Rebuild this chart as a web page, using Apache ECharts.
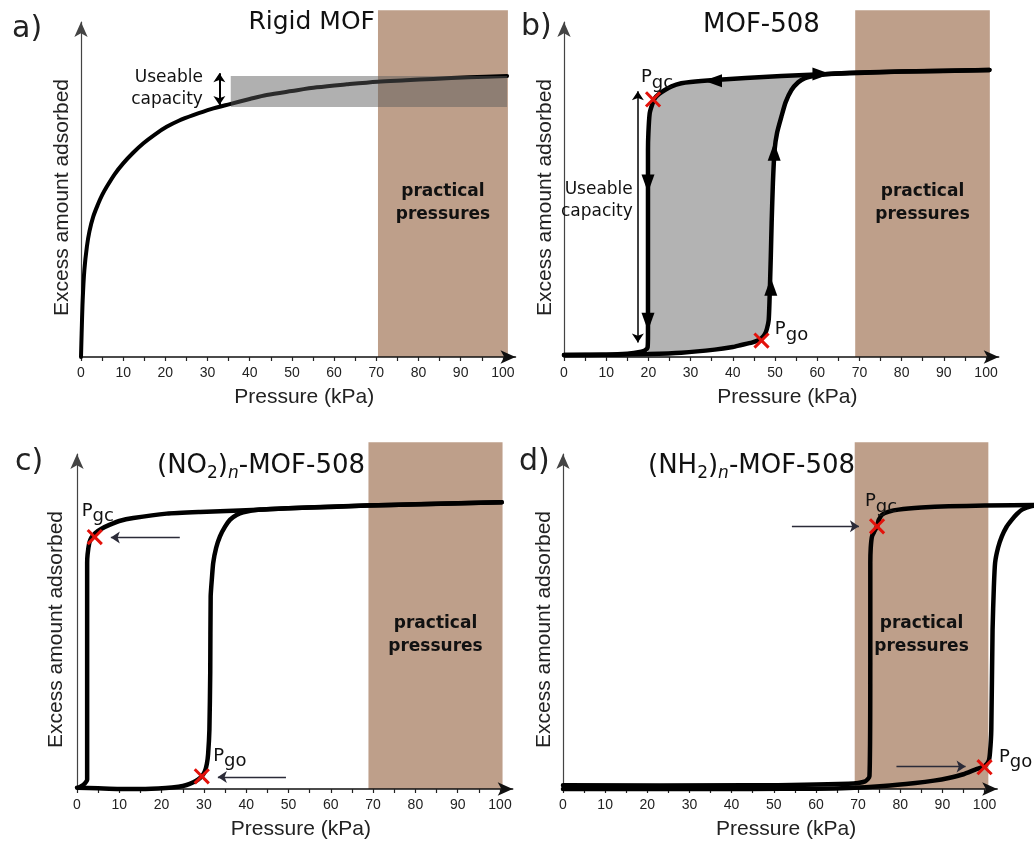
<!DOCTYPE html>
<html>
<head>
<meta charset="utf-8">
<title>MOF isotherms</title>
<script src="https://cdn.jsdelivr.net/npm/echarts@6/dist/echarts.min.js"></script>
<style>
  html, body { margin: 0; padding: 0; background: #fff; }
  #chart { width: 1034px; height: 843px; }
</style>
</head>
<body>
<div id="chart"></div>
<script>
// ================= axis ticks =================
const pressureTicks = [0, 5, 10, 15, 20, 25, 30, 35, 40, 45, 50, 55, 60, 65, 70, 75, 80, 85, 90, 95, 100]
const pressureLabels = [0, 10, 20, 30, 40, 50, 60, 70, 80, 90, 100]

// practical pressure band of each panel (kPa)
const practicalFrom = [70.4, 69.0, 68.9, 69.2]
const practicalTo = [101.2, 100.9, 100.6, 100.9]
const practicalTop = 103.5

// ================= a) rigid MOF =================
const aPressure = [0, 0.15, 0.4, 0.8, 1.4, 2.0, 2.9, 4.0, 5.0, 6.1, 8, 10, 12.3, 14.8, 17.5, 20.3, 23.3, 26.6, 30.8, 35.3, 40, 44, 50, 55.9, 63, 70.3, 77, 83.5, 92, 101]
const aAmount = [0, 7, 17, 26, 33, 37.5, 41.9, 45.5, 48.3, 50.8, 54.6, 57.8, 60.9, 63.8, 66.4, 68.7, 70.6, 72.2, 74, 75.5, 77, 78.2, 79.4, 80.5, 81.4, 82.2, 82.6, 83, 83.5, 83.9]
// useable band: pressure from/to, amount low/high
const aUseableP = [35.5, 101]
const aUseableAmt = [74.6, 83.9]

// ================= b) MOF-508 =================
const bAdsP = [0, 6, 12, 20, 27.8, 35.7, 40, 42, 44.5, 46, 46.8, 47.6, 48.1, 48.5, 48.7, 49.0, 49.2, 49.5, 49.9, 50.5, 51.5, 52.5, 53.9, 55.5, 57, 60, 62.6, 70, 80, 90, 100.8]
const bAdsAmt = [0.6, 0.6, 0.7, 0.9, 1.3, 2.2, 3.0, 3.6, 4.3, 5.0, 5.6, 6.8, 8.5, 11, 17, 30, 40, 52, 61.8, 67, 71.7, 76, 79.7, 82, 83.2, 84.1, 84.5, 84.9, 85.2, 85.4, 85.7]
const bDesP = [100.8, 80, 62.6, 51.5, 43, 35.7, 30, 27.8, 25.5, 23.9, 22.5, 21.5, 20.8, 20.3, 20.0, 19.9, 19.9, 19.9, 19.8, 19.2, 18.3, 15, 10, 0]
const bDesAmt = [85.7, 85.2, 84.5, 83.9, 83.3, 82.7, 82.1, 81.7, 80.8, 79.7, 78.5, 77.2, 75.0, 72.7, 67, 61.8, 37, 7.1, 2.8, 2.0, 1.6, 1.0, 0.7, 0.6]
// direction arrows on the loop
const bFlowP = [35.3, 61, 19.9, 19.9, 49.8, 49.0]
const bFlowAmt = [82.5, 84.5, 51.8, 10.5, 61.3, 21]
const bFlowRot = [90, -90, 180, 180, 0, 0]
const bGateP = [21.1, 46.8]
const bGateAmt = [76.9, 4.9]

// ================= c) (NO2)n-MOF-508 =================
const cAdsP = [0, 5, 10, 15, 21, 24, 25.9, 27.5, 28.6, 29.5, 30.2, 30.7, 31.0, 31.3, 31.5, 31.6, 31.9, 32.2, 32.9, 33.8, 35, 36.2, 37.7, 39.3, 43.3, 50, 60, 68.5, 80, 90, 100.4]
const cAdsAmt = [0.4, 0.2, 0, 0, 0.3, 0.7, 1.2, 2.0, 2.8, 3.8, 5.2, 7.5, 10.5, 17.7, 35, 57.5, 63, 67.5, 72, 75.4, 78.3, 80.4, 81.8, 82.6, 83.4, 83.8, 84.2, 84.6, 85, 85.3, 85.6]
const cDesP = [100.4, 68.5, 50, 38.5, 29.1, 21.2, 13.3, 10, 7.8, 5.8, 4.3, 3.4, 2.9, 2.5, 2.4, 2.4, 2.4, 1.5, 0.4]
const cDesAmt = [85.6, 84.6, 83.8, 83.1, 82.7, 82.2, 80.9, 80.0, 78.9, 77.7, 76.4, 75.0, 73.4, 70, 67.5, 17.7, 2.8, 1.2, 0.4]
const cGateP = [4.2, 29.5]
const cGateAmt = [75.2, 3.8]

// ================= d) (NH2)n-MOF-508 =================
const dAdsP = [0, 20, 44, 60, 67.7, 76, 83.6, 88, 91.5, 95, 97.8, 100, 101, 101.3, 101.6, 101.9, 102.2, 102.5, 103.2, 104.1, 105.2, 106.5, 107.7, 108.9, 111, 114]
const dAdsAmt = [0, 0, 0, 0.1, 0.3, 0.9, 1.8, 2.5, 3.3, 4.4, 5.8, 6.8, 8.4, 11, 17.7, 47.5, 60, 67.5, 72, 75.4, 78.2, 80.4, 82.1, 83.4, 84.4, 84.8]
const dDesP = [114, 100, 91.5, 85, 79.6, 77.3, 75.7, 74.9, 74.5, 73.9, 73.3, 73.0, 72.9, 72.9, 72.7, 71.7, 67.7, 44, 0]
const dDesAmt = [84.8, 84.6, 84.4, 84.0, 83.4, 82.8, 81.9, 80.3, 78.4, 77.0, 75.4, 72, 67.5, 37.6, 3.8, 2.3, 1.6, 1.1, 1.1]
const dGateP = [74.5, 100]
const dGateAmt = [78.4, 6.5]

const gateSub = ['gc', 'go']

// ================= helpers =================
const SANS = 'Liberation Sans, Arial, sans-serif'
const VERD = 'DejaVu Sans, Verdana, sans-serif'
const X_PATH = 'path://M4.25,0H5.75V4.25H10V5.75H5.75V10H4.25V5.75H0V4.25H4.25Z'

const zip = (xs, ys) => xs.map((x, k) => [x, ys[k]])

const grids = [
  { left: 81, top: 22, width: 434.5, height: 335 },
  { left: 564, top: 22, width: 434.7, height: 335 },
  { left: 77, top: 454, width: 435.7, height: 335 },
  { left: 563, top: 454, width: 434.2, height: 335 },
]

function xAxisFor(i) {
  return {
    gridIndex: i, type: 'value', min: 0, max: 103, z: 2,
    name: 'Pressure (kPa)', nameLocation: 'middle', nameGap: 30,
    nameTextStyle: { fontFamily: SANS, fontSize: 21, color: '#222', padding: [0, 0, 0, 12] },
    axisLine: { show: true, onZero: false, symbol: ['none', 'arrow'], symbolSize: [10, 15], lineStyle: { color: '#111', width: 1.5 } },
    axisTick: { show: true, inside: false, length: 4, customValues: pressureTicks, lineStyle: { color: '#222', width: 1.2 } },
    axisLabel: { customValues: pressureLabels, margin: 9, fontFamily: SANS, fontSize: 14, color: '#222' },
    splitLine: { show: false },
  }
}

function yAxisFor(i) {
  return {
    gridIndex: i, type: 'value', min: 0, max: 100, z: 2,
    name: 'Excess amount adsorbed', nameLocation: 'middle', nameGap: i === 2 ? 10 : 8,
    nameTextStyle: { fontFamily: SANS, fontSize: 21, color: '#222', padding: [0, 16, 0, 0] },
    axisLine: { show: true, symbol: ['none', 'arrow'], symbolSize: [10, 15], lineStyle: { color: '#444', width: 1.2 } },
    axisTick: { show: false },
    axisLabel: { show: false },
    splitLine: { show: false },
  }
}

function curve(i, xs, ys, extra) {
  return Object.assign({
    type: 'line', xAxisIndex: i, yAxisIndex: i, data: zip(xs, ys),
    showSymbol: false, smooth: 0.2, silent: true, clip: false, z: 3,
    lineStyle: { color: '#000', width: 4.5, cap: 'round', join: 'round' },
  }, extra || {})
}

// a curve that may run past the end of the axis (not clipped)
function freeCurve(i, xs, ys) {
  const pts = zip(xs, ys)
  return {
    type: 'custom', xAxisIndex: i, yAxisIndex: i, z: 3, silent: true,
    data: [pts[0]],
    renderItem: (params, api) => ({
      type: 'polyline',
      shape: { points: pts.map((pt) => api.coord(pt)), smooth: 0.2 },
      style: { stroke: '#000', lineWidth: 4.5, fill: null, lineCap: 'round', lineJoin: 'round' },
    }),
  }
}

function practicalBand(i) {
  return {
    type: 'custom', xAxisIndex: i, yAxisIndex: i, z: 1, silent: true,
    data: [[practicalFrom[i], practicalTo[i], practicalTop]],
    renderItem: (params, api) => {
      const p0 = api.coord([api.value(0), 0])
      const p1 = api.coord([api.value(1), api.value(2)])
      const mid = api.coord([0, 46])
      return {
        type: 'group',
        children: [
          { type: 'rect', shape: { x: p0[0], y: p1[1], width: p1[0] - p0[0], height: p0[1] - p1[1] }, style: { fill: '#be9f8a' } },
          {
            type: 'text',
            style: {
              text: 'practical\npressures', x: (p0[0] + p1[0]) / 2, y: mid[1],
              align: 'center', verticalAlign: 'middle', fontFamily: VERD, fontWeight: 'bold',
              fontSize: 17, lineHeight: 23, fill: '#111',
            },
          },
        ],
      }
    },
  }
}

const gateRich = {
  p: { fontFamily: VERD, fontSize: 18, color: '#111', textBorderWidth: 0 },
  s: { fontFamily: VERD, fontSize: 18, color: '#111', textBorderWidth: 0, padding: [11, 0, 0, 0] },
}

function gates(i, ps, amts, offsets, extra) {
  return Object.assign({
    type: 'scatter', xAxisIndex: i, yAxisIndex: i, z: 6, silent: true,
    symbol: X_PATH, symbolSize: 20, symbolRotate: 45,
    itemStyle: { color: '#e3120b', opacity: 1 },
    data: ps.map((p, k) => ({
      value: [p, amts[k]],
      label: {
        show: true, position: 'inside', offset: offsets[k], color: '#111',
        textBorderWidth: 0, textShadowBlur: 0,
        formatter: '{p|P}{s|' + gateSub[k] + '}', rich: gateRich,
      },
    })),
  }, extra || {})
}

function note(i, p, amt, text) {
  return {
    type: 'scatter', xAxisIndex: i, yAxisIndex: i, z: 6, silent: true,
    symbolSize: 0, data: [[p, amt]],
    itemStyle: { opacity: 1 },
    label: {
      show: true, position: 'inside', align: 'right', verticalAlign: 'middle',
      textBorderWidth: 0, textShadowBlur: 0,
      formatter: text, fontFamily: VERD, fontSize: 17, lineHeight: 22, color: '#111',
    },
  }
}

function arrowLines(symbol, width, color, segs) {
  return {
    silent: true, symbol: symbol, symbolSize: 9, animation: false,
    label: { show: false },
    lineStyle: { color: color, width: width, type: 'solid' },
    emphasis: { disabled: true },
    data: segs.map((s) => [{ coord: s[0] }, { coord: s[1] }]),
  }
}

// ================= series =================
const bLoop = zip(bDesP, bDesAmt).filter(([p]) => p <= 62.6 && p >= 19.8)
  .concat(zip(bAdsP, bAdsAmt).filter(([p]) => p >= 20 && p <= 62.6))

const series = [
  practicalBand(0), practicalBand(1), practicalBand(2), practicalBand(3),

  // a)
  curve(0, aPressure, aAmount, {
    smooth: 0.3,
    lineStyle: { color: '#000', width: 4, cap: 'round', join: 'round' },
    markLine: arrowLines(['arrow', 'arrow'], 2, '#000', [[[32.8, 75.2], [32.8, 84.7]]]),
  }),
  {
    type: 'custom', xAxisIndex: 0, yAxisIndex: 0, z: 4, silent: true,
    data: [[aUseableP[0], aUseableP[1], aUseableAmt[0], aUseableAmt[1]]],
    renderItem: (params, api) => {
      const p0 = api.coord([api.value(0), api.value(2)])
      const p1 = api.coord([api.value(1), api.value(3)])
      return { type: 'rect', shape: { x: p0[0], y: p1[1], width: p1[0] - p0[0], height: p0[1] - p1[1] }, style: { fill: 'rgba(90,90,90,0.48)' } }
    },
  },
  note(0, 28.9, 80, 'Useable\ncapacity'),

  // b)
  {
    type: 'custom', xAxisIndex: 1, yAxisIndex: 1, z: 2, silent: true,
    data: [[bLoop[0][0], bLoop[0][1]]],
    renderItem: (params, api) => ({
      type: 'polygon',
      shape: { points: bLoop.map((pt) => api.coord(pt)) },
      style: { fill: '#b3b3b3' },
    }),
  },
  curve(1, bAdsP, bAdsAmt, {
    markLine: arrowLines(['arrow', 'arrow'], 1.5, '#000', [[[17.5, 4.3], [17.5, 79.3]]]),
  }),
  curve(1, bDesP, bDesAmt),
  {
    type: 'scatter', xAxisIndex: 1, yAxisIndex: 1, z: 5, silent: true,
    symbol: 'triangle', symbolSize: [13, 18], itemStyle: { color: '#000', opacity: 1 },
    data: bFlowP.map((p, k) => ({ value: [p, bFlowAmt[k]], symbolRotate: bFlowRot[k] })),
  },
  gates(1, bGateP, bGateAmt, [[4, -22], [30, -11]]),
  note(1, 16.3, 46.6, 'Useable\ncapacity'),

  // c)
  curve(2, cAdsP, cAdsAmt, {
    markLine: arrowLines(['none', 'arrow'], 1.3, '#2b2b38', [[[24.3, 75.1], [8.0, 75.1]], [[49.4, 3.6], [33.3, 3.6]]]),
  }),
  curve(2, cDesP, cDesAmt),
  gates(2, cGateP, cGateAmt, [[3, -26], [28, -20]]),

  // d) runs past the axis end, so drawn without clipping
  freeCurve(3, dAdsP, dAdsAmt),
  freeCurve(3, dDesP, dDesAmt),
  gates(3, dGateP, dGateAmt, [[4, -25], [31, -10]], {
    markLine: arrowLines(['none', 'arrow'], 1.3, '#2b2b38', [[[54.3, 78.4], [70.2, 78.4]], [[79.1, 6.7], [95.5, 6.7]]]),
  }),
]

// ================= titles =================
const letterStyle = { fontFamily: VERD, fontSize: 30, fontWeight: 'normal', color: '#222' }
const headStyle = {
  fontFamily: VERD, fontSize: 26, fontWeight: 'normal', color: '#111',
  rich: {
    s: { fontFamily: VERD, fontSize: 17, color: '#111', padding: [14, 0, 0, 0] },
    i: { fontFamily: VERD, fontSize: 17, fontStyle: 'italic', color: '#111', padding: [14, 0, 0, 0] },
  },
}
const titles = [
  { text: 'a)', left: 12, top: 14, padding: 0, textStyle: letterStyle },
  { text: 'Rigid MOF', right: 659, top: 10, padding: 0, textStyle: Object.assign({}, headStyle, { fontSize: 25 }) },
  { text: 'b)', left: 521, top: 12, padding: 0, textStyle: letterStyle },
  { text: 'MOF-508', left: 703, top: 12, padding: 0, textStyle: headStyle },
  { text: 'c)', left: 15, top: 447, padding: 0, textStyle: letterStyle },
  { text: '(NO{s|2}){i|n}-MOF-508', left: 157, top: 451, padding: 0, textStyle: headStyle },
  { text: 'd)', left: 519, top: 447, padding: 0, textStyle: letterStyle },
  { text: '(NH{s|2}){i|n}-MOF-508', left: 648, top: 451, padding: 0, textStyle: headStyle },
]

// ================= init =================
const chart = echarts.init(document.getElementById('chart'), null, { renderer: 'canvas' })
chart.setOption({
  animation: false,
  backgroundColor: '#fff',
  title: titles,
  grid: grids,
  xAxis: [0, 1, 2, 3].map(xAxisFor),
  yAxis: [0, 1, 2, 3].map(yAxisFor),
  series: series,
})
</script>
</body>
</html>
